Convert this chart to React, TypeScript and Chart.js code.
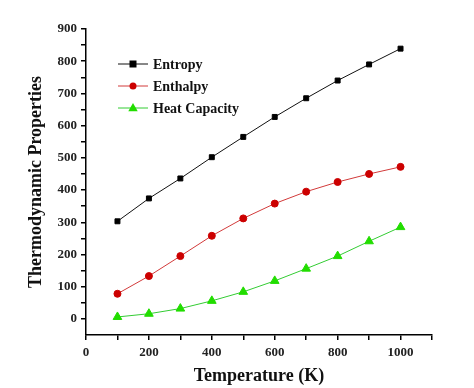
import React, { useEffect, useRef } from "react";
import { Chart, registerables } from "chart.js";

Chart.register(...registerables);

const temperatures = [100, 200, 300, 400, 500, 600, 700, 800, 900, 1000];
const entropy = [303, 374, 436, 502, 565, 627, 685, 740, 790, 839];
const enthalpy = [78, 133, 195, 258, 312, 358, 395, 425, 450, 472];
const heatCapacity = [6, 16, 32, 56, 84, 118, 156, 195, 241, 285];
const seriesNames = ["Entropy", "Enthalpy", "Heat Capacity"];
const xTickLabels = [0, 200, 400, 600, 800, 1000];
const yTickLabels = [0, 100, 200, 300, 400, 500, 600, 700, 800, 900];

const FONT = '"Liberation Serif", "Times New Roman", serif';

function drawMarker(ctx: CanvasRenderingContext2D, style: string, x: number, y: number, r: number, color: string) {
  ctx.fillStyle = color;
  ctx.beginPath();
  if (style === "rect") {
    ctx.rect(x - r, y - r, 2 * r, 2 * r);
  } else if (style === "circle") {
    ctx.arc(x, y, r, 0, Math.PI * 2);
  } else {
    ctx.moveTo(x, y - r * 1.1);
    ctx.lineTo(x + r * 1.05, y + r * 0.7);
    ctx.lineTo(x - r * 1.05, y + r * 0.7);
    ctx.closePath();
  }
  ctx.fill();
}

const insideLegend = {
  id: "insideLegend",
  afterDraw(chart: any) {
    const ctx: CanvasRenderingContext2D = chart.ctx;
    ctx.save();
    chart.data.datasets.forEach((ds: any, i: number) => {
      const y = 64 + i * 22;
      ctx.strokeStyle = ds.borderColor;
      ctx.lineWidth = 1;
      ctx.beginPath();
      ctx.moveTo(118, y);
      ctx.lineTo(148, y);
      ctx.stroke();
      drawMarker(ctx, ds.pointStyle, 133, y, ds.pointStyle === "triangle" ? 4.5 : 3.5, ds.pointBackgroundColor);
      ctx.fillStyle = "#111";
      ctx.font = `bold 14px ${FONT}`;
      ctx.textBaseline = "middle";
      ctx.textAlign = "left";
      ctx.fillText(seriesNames[i], 153, y + 1);
    });
    ctx.restore();
  },
};

export default function App() {
  const ref = useRef<HTMLCanvasElement>(null);

  useEffect(() => {
    const toPts = (arr: number[]) => arr.map((v, i) => ({ x: temperatures[i], y: v }));
    const chart = new Chart(ref.current!, {
      type: "line",
      data: {
        datasets: [
          {
            label: seriesNames[0],
            data: toPts(entropy),
            borderColor: "#111111",
            pointBackgroundColor: "#000000",
            pointBorderColor: "#000000",
            pointStyle: "rect",
            pointRadius: 3.5,
            borderWidth: 1,
          },
          {
            label: seriesNames[1],
            data: toPts(enthalpy),
            borderColor: "#d23a3a",
            pointBackgroundColor: "#cc0000",
            pointBorderColor: "#cc0000",
            pointStyle: "circle",
            pointRadius: 3.5,
            borderWidth: 1,
          },
          {
            label: seriesNames[2],
            data: toPts(heatCapacity),
            borderColor: "#33cc33",
            pointBackgroundColor: "#22dd00",
            pointBorderColor: "#22dd00",
            pointStyle: "triangle",
            pointRadius: 5,
            borderWidth: 1,
          },
        ],
      },
      options: {
        animation: false,
        responsive: true,
        maintainAspectRatio: false,
        layout: { padding: { top: 29, right: 42, left: 0, bottom: 0 } },
        plugins: { legend: { display: false }, tooltip: { enabled: false } },
        scales: {
          x: {
            type: "linear",
            min: 0,
            max: 1100,
            afterFit: (s: any) => {
              s.height = 53;
            },
            ticks: {
              stepSize: 100,
              autoSkip: false,
              maxRotation: 0,
              padding: 5,
              color: "#222",
              font: { family: FONT, weight: "bold", size: 13 },
              callback: (v: any) => (xTickLabels.includes(v) ? String(v) : ""),
            },
            grid: { display: true, drawOnChartArea: false, drawTicks: true, tickLength: 5, color: "#000", lineWidth: 1.5 },
            border: { display: true, color: "#000", width: 1.5 },
            title: {
              display: true,
              text: "Temperature (K)",
              color: "#111",
              font: { family: FONT, weight: "bold", size: 18 },
              padding: { top: 0, bottom: 1 },
            },
          },
          y: {
            type: "linear",
            min: -50,
            max: 900,
            afterFit: (s: any) => {
              s.width = 86;
            },
            afterBuildTicks: (s: any) => {
              s.ticks = s.ticks.filter((t: any) => t.value >= 0);
            },
            ticks: {
              stepSize: 50,
              autoSkip: false,
              padding: 4,
              color: "#222",
              font: { family: FONT, weight: "bold", size: 13 },
              callback: (v: any) => (yTickLabels.includes(v) ? String(v) : ""),
            },
            grid: { display: true, drawOnChartArea: false, drawTicks: true, tickLength: 5, color: "#000", lineWidth: 1.5 },
            border: { display: true, color: "#000", width: 1.5 },
            title: {
              display: true,
              text: "Thermodynamic Properties",
              color: "#111",
              font: { family: FONT, weight: "bold", size: 18 },
              padding: { top: 26, bottom: 0 },
            },
          },
        },
      },
      plugins: [insideLegend],
    });
    return () => chart.destroy();
  }, []);

  return (
    <div style={{ position: "absolute", left: 0, top: 0, width: 474, height: 388, background: "#fff" }}>
      <canvas ref={ref} />
    </div>
  );
}
